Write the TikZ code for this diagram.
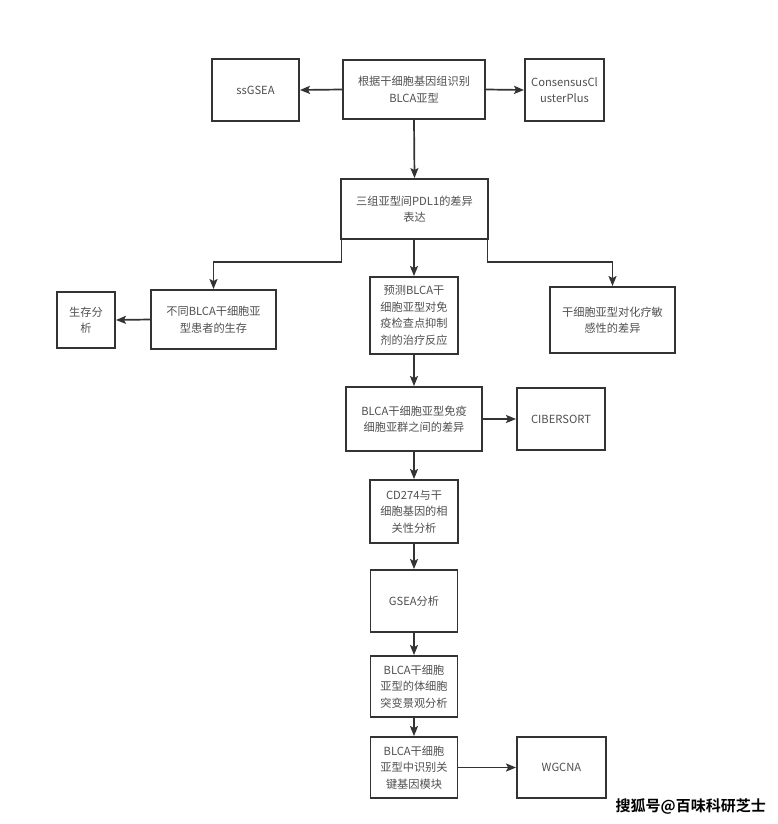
\documentclass[tikz,border=0pt]{standalone}
\usepackage{fontspec}
\setmainfont{Noto Sans CJK SC}
\newfontfamily\wmfont{Noto Sans CJK SC Bold}
\usetikzlibrary{arrows.meta}
\definecolor{ln}{HTML}{333333}
\definecolor{tx}{HTML}{505050}
\tikzset{
  box/.style={draw=ln, line width=1.9pt, fill=white, align=center, inner sep=1pt,
     font=\fontsize{11.2}{16.5}\selectfont, text=tx},
  arr/.style={draw=ln, line width=1.7pt, -{Stealth[length=10pt,width=8pt,inset=2pt]}}
}
\begin{document}
\begin{tikzpicture}[x=1pt,y=-1pt]
\useasboundingbox[fill=white] (0,0) rectangle (778,824);
\node[box, minimum width=142pt, minimum height=59pt] (b1) at (414,89.5) {根据干细胞基因组识别\\BLCA亚型};
\node[box, minimum width=87pt, minimum height=62pt] (ss) at (255.5,90) {ssGSEA};
\node[box, minimum width=79pt, minimum height=62pt] (cc) at (564.5,90) {ConsensusCl\\usterPlus};
\node[box, minimum width=147pt, minimum height=60pt] (b2) at (414.5,209) {三组亚型间PDL1的差异\\表达};
\node[box, minimum width=58pt, minimum height=56pt] (surv) at (86,320) {生存分\\析};
\node[box, minimum width=125pt, minimum height=59pt] (diff) at (213.5,319.5) {不同BLCA干细胞亚\\型患者的生存};
\node[box, minimum width=88pt, minimum height=77pt] (pred) at (414,315.5) {预测BLCA干\\细胞亚型对免\\疫检查点抑制\\剂的治疗反应};
\node[box, minimum width=125pt, minimum height=66pt] (chemo) at (612.5,320) {干细胞亚型对化疗敏\\感性的差异};
\node[box, minimum width=136pt, minimum height=64pt] (imm) at (414,419) {BLCA干细胞亚型免疫\\细胞亚群之间的差异};
\node[box, minimum width=88pt, minimum height=62pt] (cib) at (561,419) {CIBERSORT};
\node[box, minimum width=88pt, minimum height=63pt] (cd) at (414,511.5) {CD274与干\\细胞基因的相\\关性分析};
\node[box, minimum width=87pt, minimum height=62pt] (gsea) at (414,601) {GSEA分析};
\node[box, minimum width=87pt, minimum height=61pt] (som) at (414,686.5) {BLCA干细胞\\亚型的体细胞\\突变景观分析};
\node[box, minimum width=87pt, minimum height=61pt] (mod) at (414,767.5) {BLCA干细胞\\亚型中识别关\\键基因模块};
\node[box, minimum width=89pt, minimum height=61pt] (wg) at (561.5,767.5) {WGCNA};
\node[font=\wmfont\fontsize{15}{15}\selectfont, text=black, anchor=east, inner sep=0pt] (wm) at (766,806) {搜狐号@百味科研芝士};
% connectors
\draw[arr] (b1.west) -- (ss.east);
\draw[arr] (b1.east) -- (cc.west);
\draw[arr] (b1.south) -- (b2.north);
\draw[arr] ([xshift=1.5pt]b2.south west) |- (213.5,262) -- (diff.north);
\draw[arr] ([xshift=-1.5pt]b2.south east) |- (612.5,262) -- (chemo.north);
\draw[arr] (b2.south -| pred.north) -- (pred.north);
\draw[arr] (diff.west) -- (surv.east);
\draw[arr] (pred.south) -- (imm.north);
\draw[arr] (imm.east) -- (cib.west);
\draw[arr] (imm.south) -- (cd.north);
\draw[arr] (cd.south) -- (gsea.north);
\draw[arr] (gsea.south) -- (som.north);
\draw[arr] (som.south) -- (mod.north);
\draw[arr] (mod.east) -- (wg.west);
\end{tikzpicture}
\end{document}
